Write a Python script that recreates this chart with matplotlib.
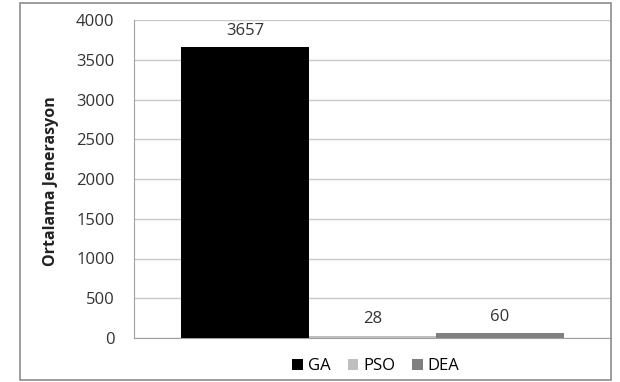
import matplotlib
matplotlib.use("Agg")
import matplotlib.pyplot as plt
from matplotlib.patches import Rectangle, Patch

plt.rcParams['font.family'] = ['Open Sans', 'DejaVu Sans']

series = ["GA", "PSO", "DEA"]
values = [3657, 28, 60]
colors = ["#000000", "#bfbfbf", "#808080"]
yticks = [0, 500, 1000, 1500, 2000, 2500, 3000, 3500, 4000]
ylabel = "Ortalama Jenerasyon"

W, H = 620, 382
fig = plt.figure(figsize=(W / 100, H / 100), dpi=100)
fig.patch.set_facecolor("white")

# chart frame
fig.add_artist(Rectangle((20 / W, 2 / H), 591 / W, 377 / H, transform=fig.transFigure,
                         fill=False, edgecolor="#8c8c8c", linewidth=1.2))

left, right, top, bottom = 134, 611, 20, 338
ax = fig.add_axes([left / W, 1 - bottom / H, (right - left) / W, (bottom - top) / H])

bw = 127.5 / (right - left)
start = 0.5 - 1.5 * bw
for i, (name, v, c) in enumerate(zip(series, values, colors)):
    x = start + bw * (i + 0.5)
    ax.bar(x, v, width=bw, color=c, label=name, zorder=3)
    ax.annotate(str(v), (x, v), xytext=(0, 9), textcoords="offset points",
                ha="center", va="baseline", fontsize=12, color="#333333")

ax.set_xlim(0, 1)
ax.set_ylim(0, 4000)
ax.set_yticks(yticks)
ax.set_yticklabels([str(t) for t in yticks], fontsize=12, color="#333333")
ax.set_xticks([])
ax.tick_params(axis="y", length=0, pad=14)
ax.yaxis.grid(True, color="#c8c8c8", linewidth=1.0, zorder=0)
for s in ["top", "right"]:
    ax.spines[s].set_visible(False)
ax.spines["left"].set_color("#a0a0a0")
ax.spines["bottom"].set_color("#a0a0a0")

fig.text(51 / W, 1 - 181 / H, ylabel, rotation=90, ha="center", va="center",
         fontsize=11.5, fontweight="bold", color="#222222")

handles = [Patch(facecolor=c, edgecolor="none") for c in colors]
fig.legend(handles, series, loc="center", bbox_to_anchor=(376 / W, 1 - 366 / H), ncol=3,
           frameon=False, fontsize=12, handlelength=0.65, handleheight=0.65,
           handletextpad=0.3, columnspacing=1.0, borderpad=0)

fig.savefig("out.png", dpi=100, facecolor="white")
